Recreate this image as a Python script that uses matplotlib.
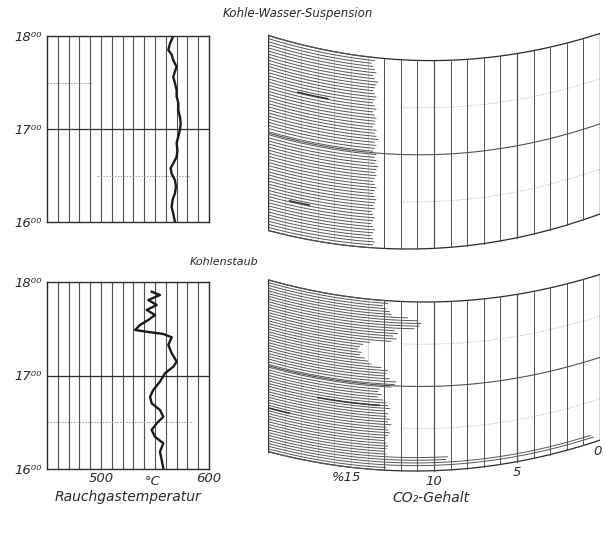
import numpy as np
import matplotlib
matplotlib.use("Agg")
import matplotlib.pyplot as plt

# ---------------------------------------------------------------- data
time_ticks = [16, 17, 18]
time_labels = ["16⁰⁰", "17⁰⁰", "18⁰⁰"]
temp_ticks = [500, 600]
temp_labels = ["500", "600"]
co2_ticks = [15.3, 10, 5, 0.15]
co2_labels = ["%15", "10", "5", "0"]

# flue-gas temperature, coal-water suspension (hour, °C)
kws_time = [16.00, 16.09, 16.16, 16.24, 16.31, 16.38, 16.45, 16.52, 16.58, 16.63,
            16.70, 16.77, 16.85, 16.92, 16.99, 17.06, 17.13, 17.20, 17.28, 17.35,
            17.42, 17.49, 17.56, 17.62, 17.67, 17.74, 17.80, 17.85, 17.92, 18.00]
kws_temp = [568.5, 566.9, 565.4, 566.3, 568.5, 569.4, 568.5, 565.4, 564.5, 566.9,
            570.0, 570.7, 570.0, 571.6, 573.1, 573.8, 573.1, 571.6, 571.6, 570.0,
            570.0, 568.5, 566.9, 568.5, 570.0, 566.9, 565.4, 562.3, 563.9, 566.9]

# flue-gas temperature, pulverised coal (hour, °C)
staub_time = [16.007, 16.096, 16.185, 16.275, 16.345, 16.417, 16.489, 16.559, 16.631, 16.703,
              16.773, 16.845, 16.934, 17.024, 17.094, 17.148, 17.237, 17.326, 17.409, 17.444,
              17.468, 17.487, 17.540, 17.594, 17.647, 17.701, 17.754, 17.807, 17.861, 17.896]
staub_temp = [557.7, 556.2, 554.6, 557.7, 550.0, 546.9, 551.6, 557.7, 554.6, 546.9,
              545.4, 548.4, 554.6, 559.3, 566.9, 570.1, 565.5, 562.3, 565.5, 557.7,
              542.3, 531.5, 536.1, 543.8, 550.0, 542.3, 551.6, 543.8, 554.6, 546.9]

# CO2 records (%), listed from 18:00 down to 16:00
kws_co2 = [13.7, 13.6, 13.8, 13.7, 13.6, 13.5, 13.7, 13.6, 13.4, 13.5,
           13.6, 13.7, 13.6, 13.5, 13.6, 13.7, 13.6, 13.5, 13.7, 13.6,
           13.5, 13.6, 13.6, 13.7, 13.5, 13.6, 13.5, 13.4, 13.6, 13.5,
           13.6, 13.7, 13.5, 13.6, 13.5, 13.6, 13.4, 13.5, 13.6, 13.5,
           13.6, 13.7, 13.6, 13.5, 13.6, 13.7, 13.6, 13.5, 13.6, 13.7,
           13.6, 13.8, 13.7, 13.6, 13.7, 13.8, 13.7, 13.6, 13.7, 13.8,
           13.7, 13.6, 13.7, 13.8]
staub_co2 = [13.0, 12.8, 13.1, 12.9, 12.7, 12.6,
             11.6, 11.0, 10.8, 10.9, 11.2,
             12.4, 12.2, 12.5, 12.3, 12.6,
             13.9, 14.3, 14.5, 14.6, 14.4, 14.5, 14.2, 14.0, 13.8,
             13.2, 12.8, 12.9, 13.0, 12.7,
             12.3, 12.4, 12.6,
             13.3, 13.4, 13.2, 13.4, 13.1,
             12.9, 12.8, 12.7, 13.0,
             12.8, 12.9, 12.7, 12.8, 12.6, 12.9, 12.8, 12.7, 12.8, 12.9,
             13.0, 12.9, 12.8, 12.9, 13.0, 12.9,
             9.2, 9.3, 0.6, 0.4, 12.9, 13.0]

# heavier pen strokes on the CO2 strip (hour, from %, to %)
kws_marks = [(17.50, 18.2, 16.4), (16.36, 18.7, 17.5)]
staub_marks = [(16.76, 17.0, 13.3), (16.51, 19.9, 18.7)]

# ---------------------------------------------------------------- layout
W, H = 605, 533
fig = plt.figure(figsize=(W / 100, H / 100), dpi=100)
fig.patch.set_facecolor("white")

INK = "#2a2a2a"
GRID = "#505050"


def box(x0, y0, x1, y1):
    return [x0 / W, 1 - y1 / H, (x1 - x0) / W, (y1 - y0) / H]


def temp_panel(rect, t, T, dotted, show_x):
    ax = fig.add_axes(box(*rect))
    ax.set_xlim(450, 600)
    ax.set_ylim(16, 18)
    for v in range(460, 600, 10):
        ax.axvline(v, color=GRID, lw=0.8)
    ax.axhline(17, color=INK, lw=0.9)
    for yy, x0, x1 in dotted:
        ax.hlines(yy, x0, x1, color="#9a9a9a", lw=0.7, ls=(0, (1.5, 1.5)))
    ax.plot(T, t, color="#1a1a1a", lw=1.7, solid_joinstyle="round")
    ax.set_yticks(time_ticks, time_labels, fontstyle="italic", fontsize=9.5, color=INK)
    ax.tick_params(length=0, pad=4)
    if show_x:
        ax.set_xticks(temp_ticks, temp_labels, fontstyle="italic", fontsize=9.5, color=INK)
        ax.tick_params(axis="x", pad=2)
        ax.text(548, 15.94, "°C", ha="center", va="top", fontsize=9.5,
                fontstyle="italic", color=INK, transform=ax.transData)
        ax.set_xlabel("Rauchgastemperatur", fontsize=10, fontstyle="italic",
                      color=INK, labelpad=4)
    else:
        ax.set_xticks([])
    for s in ax.spines.values():
        s.set_linewidth(1.0)
        s.set_color(INK)
    return ax


def co2_panel(rect, geo, values, marks, show_x):
    x0, y0, x1, y1 = rect
    ax = fig.add_axes(box(*rect))
    ax.axis("off")
    s = (x1 - x0) / 20.0                       # px per percent
    h = (geo["yv16"] - geo["yv18"]) / 2.0      # px per hour at the vertex
    ax.set_xlim(20, 0)
    ax.set_ylim(16 - (y1 - geo["yv16"]) / h, 18 + (geo["yv18"] - y0) / h)

    def bend(p, t):
        xv = geo["xv16"] + (t - 16) / 2 * (geo["xv18"] - geo["xv16"])
        pv = (x1 - xv) / s
        return geo["a"] * (s * (np.asarray(p) - pv)) ** 2 / h

    def arc(t, p0=20, p1=0, **kw):
        p = np.linspace(p0, p1, 160)
        ax.plot(p, t + bend(p, t), **kw)

    # time grid of the recorder paper
    arc(18, color=INK, lw=0.9)
    arc(16, color=INK, lw=0.9)
    arc(17, color=GRID, lw=0.8)
    for tt in (17.5, 16.5):
        arc(tt, p0=12, color="#b0b0b0", lw=0.6, ls=(0, (1.5, 2)))

    # percentage lines (faint where the hatching covers the paper)
    tt = np.linspace(16, 18, 50)
    for k in range(0, 21):
        if k in (0, 20):
            col, lw = INK, 1.0
        elif k >= 14:
            col, lw = "#c4c4c4", 0.5
        else:
            col, lw = GRID, (0.9 if k % 5 == 0 else 0.7)
        ax.plot(np.full_like(tt, k), tt + bend(k, tt), color=col, lw=lw)

    # hatch lines written by the recorder
    times = np.linspace(18, 16, len(values))
    for t, v in zip(times, values):
        arc(t, p0=20, p1=v, color="#555555", lw=0.7)
    for t, pa, pb in marks:
        arc(t, p0=pa, p1=pb, color="#333333", lw=1.1)

    if show_x:
        for p, lab in zip(co2_ticks, co2_labels):
            ax.text(p, 16 + bend(p, 16) - 0.05, lab, ha="center", va="top",
                    fontsize=9.5, fontstyle="italic", color=INK)
        ax.text(10.2, 16 + bend(10.2, 16) - 0.24, "CO₂-Gehalt", ha="center", va="top",
                fontsize=10, fontstyle="italic", color=INK)
    return ax


temp_panel((47, 36, 209, 222), kws_time, kws_temp,
           dotted=[(17.5, 450, 492), (16.5, 496, 582)], show_x=False)
temp_panel((47, 282, 209, 469), staub_time, staub_temp,
           dotted=[(16.5, 450, 585)], show_x=True)

co2_panel((268, 20, 600, 255),
          dict(yv18=60.6, yv16=249, xv18=431, xv16=408, a=0.00095),
          kws_co2, kws_marks, False)
co2_panel((268, 265, 600, 495),
          dict(yv18=302, yv16=471, xv18=425, xv16=415, a=0.0009),
          staub_co2, staub_marks, True)

fig.text(298 / W, 1 - 14 / H, "Kohle-Wasser-Suspension", ha="center", va="center",
         fontsize=8.5, fontstyle="italic", color=INK)
fig.text(224 / W, 1 - 262 / H, "Kohlenstaub", ha="center", va="center",
         fontsize=8, fontstyle="italic", color=INK)

fig.savefig("out.png", dpi=100, facecolor="white")
